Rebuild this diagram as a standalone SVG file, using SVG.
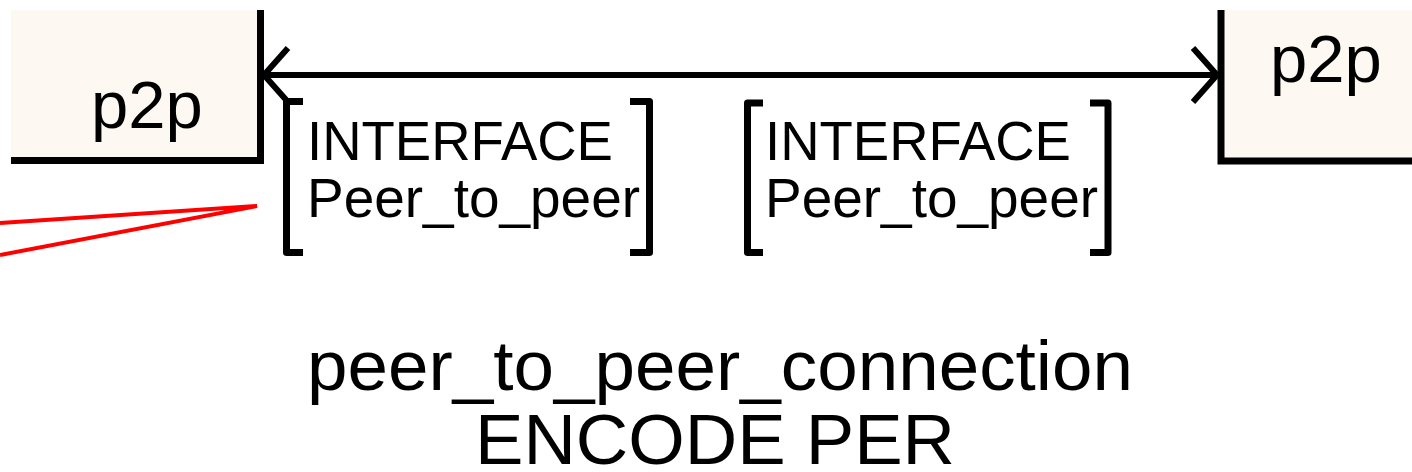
<svg xmlns="http://www.w3.org/2000/svg" width="1412" height="472" viewBox="0 0 1412 472">
  <style>
    text { font-family: "Liberation Sans", Arial, sans-serif; fill: #000; }
    .box { fill: #fdf8f1; stroke: none; }
    .edge { fill: none; stroke: #000; stroke-width: 7; stroke-linejoin: miter; }
    .bracket { fill: none; stroke: #000; stroke-width: 7; stroke-linejoin: round; stroke-linecap: butt; }
    .conn { fill: none; stroke: #000; stroke-width: 6; }
    .lead { fill: none; stroke: #ff0000; stroke-width: 4; stroke-linejoin: miter; }
    .name { font-size: 67px; }
    .iface { font-size: 55px; }
    .title { font-size: 70px; }
  </style>
  <defs>
    <marker id="openArrow" markerUnits="userSpaceOnUse" viewBox="-30 -32 34 64" refX="0" refY="0" markerWidth="34" markerHeight="64" orient="auto-start-reverse">
      <path d="M-24,-27 L0,0 L-24,27" fill="none" stroke="#000" stroke-width="6"/>
    </marker>
  </defs>
  <rect width="1412" height="472" fill="#ffffff"/>

  <!-- left block -->
  <g id="p2p-left">
    <rect class="box" x="11" y="10" width="250" height="151"/>
    <path class="edge" d="M260.5,10 V160.5 H11"/>
    <text class="name" x="91" y="128">p2p</text>
  </g>

  <!-- right block -->
  <g id="p2p-right">
    <rect class="box" x="1221" y="10" width="191" height="151"/>
    <path class="edge" d="M1221,10 V161 H1412"/>
    <text class="name" x="1270" y="82">p2p</text>
  </g>

  <!-- channel between the blocks -->
  <g id="connectors">
    <line class="conn" x1="264" y1="75" x2="1217" y2="75" marker-start="url(#openArrow)" marker-end="url(#openArrow)"/>
    <polyline class="lead" points="0,223 257,206 0,255"/>
  </g>

  <!-- signal list, left end -->
  <g id="iface-left">
    <path class="bracket" d="M303,101.5 H286.5 V252.5 H303"/>
    <path class="bracket" d="M630,101.5 H649.5 V252.5 H630"/>
    <text class="iface" x="307" y="160" textLength="306" lengthAdjust="spacingAndGlyphs">INTERFACE</text>
    <text class="iface" x="307" y="217" textLength="333" lengthAdjust="spacingAndGlyphs">Peer_to_peer</text>
  </g>

  <!-- signal list, right end -->
  <g id="iface-right">
    <path class="bracket" d="M763,103 H747.5 V252.5 H763"/>
    <path class="bracket" d="M1090,103 H1108 V252.5 H1090"/>
    <text class="iface" x="765" y="160" textLength="306" lengthAdjust="spacingAndGlyphs">INTERFACE</text>
    <text class="iface" x="765" y="217" textLength="333" lengthAdjust="spacingAndGlyphs">Peer_to_peer</text>
  </g>

  <!-- channel name -->
  <g id="channel-label">
    <text class="title" x="307" y="390" textLength="826" lengthAdjust="spacingAndGlyphs">peer_to_peer_connection</text>
    <text class="title" x="475" y="464" textLength="480" lengthAdjust="spacingAndGlyphs">ENCODE PER</text>
  </g>
</svg>
